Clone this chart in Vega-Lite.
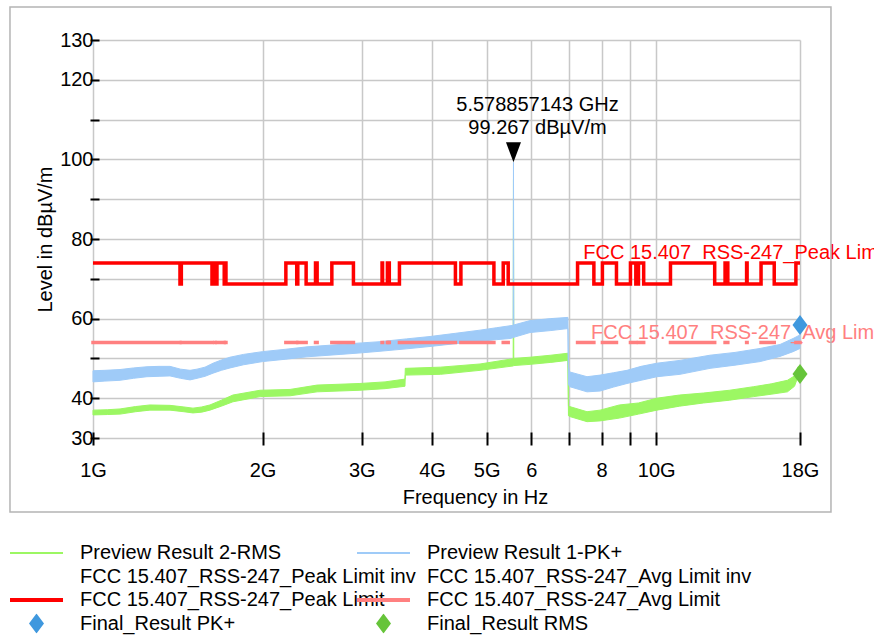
{
  "$schema": "https://vega.github.io/schema/vega-lite/v6.json",
  "width": 707,
  "height": 398,
  "autosize": {"type": "none"},
  "padding": {"left": 93, "top": 40, "right": 74, "bottom": 199},
  "background": "white",
  "config": {
    "font": "Liberation Sans",
    "view": {"stroke": null},
    "axis": {
      "labelFont": "Liberation Sans", "titleFont": "Liberation Sans",
      "labelFontSize": 20, "titleFontSize": 20, "titleFontWeight": "normal",
      "labelColor": "#000", "titleColor": "#000",
      "gridColor": "#c8c8c8", "gridWidth": 1.5,
      "tickColor": "#000", "tickWidth": 2, "domain": false,
      "labelFlush": false, "labelOverlap": false
    },
    "legend": {"labelFont": "Liberation Sans", "labelFontSize": 20, "labelColor": "#000"}
  },
  "datasets": {
    "rms": [
      {"f": 1.0, "lo": 35.8, "hi": 37.0}, {"f": 1.06, "lo": 35.9, "hi": 37.1}, {"f": 1.117, "lo": 36.0, "hi": 37.3},
      {"f": 1.19, "lo": 36.6, "hi": 37.9}, {"f": 1.262, "lo": 37.0, "hi": 38.3}, {"f": 1.37, "lo": 37.0, "hi": 38.2},
      {"f": 1.45, "lo": 36.6, "hi": 37.8}, {"f": 1.505, "lo": 36.3, "hi": 37.5}, {"f": 1.56, "lo": 36.5, "hi": 37.8},
      {"f": 1.613, "lo": 37.0, "hi": 38.3}, {"f": 1.69, "lo": 38.0, "hi": 39.5}, {"f": 1.772, "lo": 39.1, "hi": 40.8},
      {"f": 1.98, "lo": 40.4, "hi": 42.0}, {"f": 2.238, "lo": 40.6, "hi": 42.2}, {"f": 2.5, "lo": 41.6, "hi": 43.3},
      {"f": 2.978, "lo": 42.0, "hi": 43.7}, {"f": 3.3, "lo": 42.4, "hi": 44.1}, {"f": 3.58, "lo": 43.0, "hi": 44.8},
      {"f": 3.585, "lo": 45.8, "hi": 47.5}, {"f": 4.14, "lo": 46.0, "hi": 47.8}, {"f": 4.866, "lo": 47.0, "hi": 48.6},
      {"f": 5.5, "lo": 48.0, "hi": 49.8}, {"f": 5.572, "lo": 48.1, "hi": 49.9}, {"f": 5.5789, "lo": 48.1, "hi": 95.0},
      {"f": 5.586, "lo": 48.2, "hi": 50.0}, {"f": 5.97, "lo": 48.5, "hi": 50.3}, {"f": 6.5, "lo": 49.0, "hi": 50.8},
      {"f": 6.97, "lo": 49.5, "hi": 51.3}, {"f": 6.985, "lo": 35.6, "hi": 38.0}, {"f": 7.02, "lo": 35.4, "hi": 37.9},
      {"f": 7.536, "lo": 34.1, "hi": 36.6}, {"f": 7.95, "lo": 34.3, "hi": 37.0}, {"f": 8.6, "lo": 35.0, "hi": 38.3},
      {"f": 9.3, "lo": 36.0, "hi": 38.8}, {"f": 10.03, "lo": 37.0, "hi": 40.0}, {"f": 11.0, "lo": 38.0, "hi": 40.8},
      {"f": 12.13, "lo": 38.8, "hi": 41.3}, {"f": 13.5, "lo": 39.5, "hi": 42.0}, {"f": 14.9, "lo": 40.4, "hi": 42.9},
      {"f": 16.0, "lo": 41.0, "hi": 43.6}, {"f": 17.1, "lo": 41.6, "hi": 44.5}, {"f": 17.6, "lo": 43.0, "hi": 45.6},
      {"f": 17.85, "lo": 45.4, "hi": 47.9}, {"f": 18.0, "lo": 45.5, "hi": 47.8}
    ],
    "pk": [
      {"f": 1.0, "lo": 44.1, "hi": 46.9}, {"f": 1.05, "lo": 44.3, "hi": 47.0}, {"f": 1.117, "lo": 44.5, "hi": 47.2},
      {"f": 1.18, "lo": 45.0, "hi": 47.6}, {"f": 1.247, "lo": 45.4, "hi": 47.9}, {"f": 1.31, "lo": 45.5, "hi": 48.0},
      {"f": 1.37, "lo": 45.6, "hi": 48.0}, {"f": 1.43, "lo": 45.0, "hi": 47.3}, {"f": 1.487, "lo": 44.6, "hi": 47.0},
      {"f": 1.53, "lo": 45.0, "hi": 47.3}, {"f": 1.581, "lo": 45.5, "hi": 47.8}, {"f": 1.634, "lo": 46.3, "hi": 48.8},
      {"f": 1.69, "lo": 47.0, "hi": 49.6}, {"f": 1.751, "lo": 47.6, "hi": 50.3}, {"f": 1.85, "lo": 48.4, "hi": 51.0},
      {"f": 2.0, "lo": 49.2, "hi": 51.7}, {"f": 2.2, "lo": 49.8, "hi": 52.3}, {"f": 2.399, "lo": 50.4, "hi": 52.9},
      {"f": 2.746, "lo": 51.0, "hi": 53.5}, {"f": 3.0, "lo": 51.4, "hi": 53.9}, {"f": 3.233, "lo": 51.8, "hi": 54.2},
      {"f": 3.6, "lo": 52.4, "hi": 54.9}, {"f": 3.967, "lo": 53.0, "hi": 55.5}, {"f": 4.4, "lo": 53.7, "hi": 56.3},
      {"f": 4.866, "lo": 54.3, "hi": 57.1}, {"f": 5.2, "lo": 54.7, "hi": 57.7}, {"f": 5.5, "lo": 55.0, "hi": 58.2},
      {"f": 5.572, "lo": 55.2, "hi": 58.3}, {"f": 5.5789, "lo": 55.2, "hi": 99.267}, {"f": 5.586, "lo": 55.3, "hi": 58.4},
      {"f": 5.97, "lo": 56.5, "hi": 59.5}, {"f": 6.5, "lo": 57.0, "hi": 60.0}, {"f": 6.97, "lo": 57.5, "hi": 60.3},
      {"f": 6.985, "lo": 43.5, "hi": 48.0}, {"f": 7.02, "lo": 42.9, "hi": 46.6}, {"f": 7.536, "lo": 41.6, "hi": 45.4},
      {"f": 7.948, "lo": 41.8, "hi": 45.8}, {"f": 8.4, "lo": 42.8, "hi": 46.4}, {"f": 8.874, "lo": 43.7, "hi": 47.0},
      {"f": 9.4, "lo": 44.5, "hi": 48.0}, {"f": 10.03, "lo": 45.4, "hi": 48.8}, {"f": 11.02, "lo": 46.0, "hi": 49.5},
      {"f": 12.46, "lo": 47.5, "hi": 50.8}, {"f": 13.8, "lo": 48.3, "hi": 51.5}, {"f": 15.29, "lo": 49.2, "hi": 52.5},
      {"f": 16.59, "lo": 50.5, "hi": 53.5}, {"f": 17.5, "lo": 51.7, "hi": 55.0}, {"f": 18.0, "lo": 52.5, "hi": 55.9}
    ],
    "peak": [
      {"f": 1.0, "level": 74}, {"f": 1.427, "level": 68.7}, {"f": 1.435, "level": 74}, {"f": 1.6265, "level": 68.7},
      {"f": 1.6455, "level": 74}, {"f": 1.6465, "level": 68.7}, {"f": 1.66, "level": 74}, {"f": 1.71, "level": 68.7},
      {"f": 1.7188, "level": 74}, {"f": 1.7222, "level": 68.7}, {"f": 2.2, "level": 74}, {"f": 2.3, "level": 68.7},
      {"f": 2.31, "level": 74}, {"f": 2.39, "level": 68.7}, {"f": 2.4835, "level": 74}, {"f": 2.5, "level": 68.7},
      {"f": 2.655, "level": 74}, {"f": 2.9, "level": 68.7}, {"f": 3.26, "level": 74}, {"f": 3.267, "level": 68.7},
      {"f": 3.332, "level": 74}, {"f": 3.339, "level": 68.7}, {"f": 3.3458, "level": 74}, {"f": 3.358, "level": 68.7},
      {"f": 3.5, "level": 74}, {"f": 4.4, "level": 68.7}, {"f": 4.5, "level": 74}, {"f": 5.15, "level": 68.7},
      {"f": 5.35, "level": 74}, {"f": 5.46, "level": 68.7}, {"f": 7.25, "level": 74}, {"f": 7.75, "level": 68.7},
      {"f": 8.025, "level": 74}, {"f": 8.5, "level": 68.7}, {"f": 9.0, "level": 74}, {"f": 9.2, "level": 68.7},
      {"f": 9.3, "level": 74}, {"f": 9.5, "level": 68.7}, {"f": 10.6, "level": 74}, {"f": 12.7, "level": 68.7},
      {"f": 13.25, "level": 74}, {"f": 13.4, "level": 68.7}, {"f": 14.47, "level": 74}, {"f": 14.5, "level": 68.7},
      {"f": 15.35, "level": 74}, {"f": 16.2, "level": 68.7}, {"f": 17.7, "level": 74}, {"f": 18.0, "level": 74}
    ],
    "avg": [
      {"f": 1.0, "f2": 1.427}, {"f": 1.435, "f2": 1.6265}, {"f": 1.6455, "f2": 1.6465}, {"f": 1.66, "f2": 1.71},
      {"f": 1.7188, "f2": 1.7222}, {"f": 2.2, "f2": 2.3}, {"f": 2.31, "f2": 2.39}, {"f": 2.4835, "f2": 2.5},
      {"f": 2.655, "f2": 2.9}, {"f": 3.26, "f2": 3.267}, {"f": 3.332, "f2": 3.339}, {"f": 3.3458, "f2": 3.358},
      {"f": 3.5, "f2": 4.4}, {"f": 4.5, "f2": 5.15}, {"f": 5.35, "f2": 5.46}, {"f": 7.25, "f2": 7.75},
      {"f": 8.025, "f2": 8.5}, {"f": 9.0, "f2": 9.2}, {"f": 9.3, "f2": 9.5}, {"f": 10.6, "f2": 12.7},
      {"f": 13.25, "f2": 13.4}, {"f": 14.47, "f2": 14.5}, {"f": 15.35, "f2": 16.2}, {"f": 17.7, "f2": 18.0}
    ],
    "frame": [{"f": 0.7122, "f2": 20.43, "level": 11.42, "level2": 138.29}],
    "peaklabel": [{"f": 7.42, "level": 75.1, "text": "FCC 15.407_RSS-247_Peak Limit"}],
    "avglabel": [{"f": 7.66, "level": 54.86, "text": "FCC 15.407_RSS-247_Avg Limit"}],
    "marker": [{"f": 5.578857143, "level": 99.267, "label": "5.578857143 GHz\n99.267 dBµV/m"}],
    "finalpk": [{"series": "Final_Result PK+", "f": 18, "level": 58.4}],
    "finalrms": [{"series": "Final_Result RMS", "f": 18, "level": 46.1}]
  },
  "layer": [
    {
      "data": {"name": "rms"},
      "mark": {"type": "area", "color": "#9cf763", "stroke": "#9cf763", "strokeWidth": 1, "opacity": 1},
      "encoding": {
        "x": {"field": "f", "type": "quantitative", "scale": {"type": "log", "domain": [1, 18], "nice": false},
          "axis": {
            "values": [1, 2, 3, 4, 5, 6, 7, 8, 9, 10, 18], "tickCount": 30,
            "labelExpr": "datum.value == 6 ? '6' : datum.value == 8 ? '8' : (datum.value == 7 || datum.value == 9) ? '' : datum.value + 'G'",
            "title": "Frequency in Hz", "titleX": 382, "titleY": 71, "titleBaseline": "alphabetic", "titleAlign": "center",
            "offset": -6, "tickSize": 13, "labelPadding": 15, "grid": true
          }},
        "y": {"field": "lo", "type": "quantitative", "scale": {"domain": [30, 130], "nice": false, "zero": false},
          "axis": {
            "values": [30, 40, 50, 60, 70, 80, 90, 100, 110, 120, 130], "tickCount": 30,
            "labelExpr": "indexof([30,40,60,80,100,120,130], datum.value) >= 0 ? datum.label : ''",
            "title": "Level in dBµV/m", "titleX": -47.5, "titleY": 199, "titleAngle": 270, "titleBaseline": "alphabetic", "titleAlign": "center",
            "offset": -6, "tickSize": 9, "labelPadding": -3, "grid": true
          }},
        "y2": {"field": "hi"}
      }
    },
    {
      "data": {"name": "pk"},
      "mark": {"type": "area", "color": "#9fcbf8", "stroke": "#9fcbf8", "strokeWidth": 1, "opacity": 1},
      "encoding": {
        "x": {"field": "f", "type": "quantitative", "scale": {"type": "log", "domain": [1, 18], "nice": false}},
        "y": {"field": "lo", "type": "quantitative", "scale": {"domain": [30, 130], "nice": false, "zero": false}},
        "y2": {"field": "hi"}
      }
    },
    {
      "data": {"name": "avg"},
      "mark": {"type": "rule", "color": "#ff8080", "strokeWidth": 3.5, "strokeCap": "square"},
      "encoding": {
        "x": {"field": "f", "type": "quantitative", "scale": {"type": "log", "domain": [1, 18], "nice": false}},
        "x2": {"field": "f2"},
        "y": {"datum": 54, "type": "quantitative", "scale": {"domain": [30, 130], "nice": false, "zero": false}}
      }
    },
    {
      "data": {"name": "peak"},
      "mark": {"type": "line", "color": "#ff0000", "strokeWidth": 3.5, "interpolate": "step-after"},
      "encoding": {
        "x": {"field": "f", "type": "quantitative", "scale": {"type": "log", "domain": [1, 18], "nice": false}},
        "y": {"field": "level", "type": "quantitative", "scale": {"domain": [30, 130], "nice": false, "zero": false}}
      }
    },
    {
      "data": {"name": "peaklabel"},
      "mark": {"type": "text", "color": "#ff0000", "fontSize": 20, "align": "left", "baseline": "alphabetic"},
      "encoding": {
        "x": {"field": "f", "type": "quantitative", "scale": {"type": "log", "domain": [1, 18], "nice": false}},
        "y": {"field": "level", "type": "quantitative", "scale": {"domain": [30, 130], "nice": false, "zero": false}},
        "text": {"field": "text"}
      }
    },
    {
      "data": {"name": "avglabel"},
      "mark": {"type": "text", "color": "#ff8080", "fontSize": 20, "align": "left", "baseline": "alphabetic"},
      "encoding": {
        "x": {"field": "f", "type": "quantitative", "scale": {"type": "log", "domain": [1, 18], "nice": false}},
        "y": {"field": "level", "type": "quantitative", "scale": {"domain": [30, 130], "nice": false, "zero": false}},
        "text": {"field": "text"}
      }
    },
    {
      "data": {"name": "marker"},
      "mark": {"type": "point", "filled": true, "opacity": 1, "color": "#000", "shape": "M-0.75,-2L0.75,-2L0,0Z", "size": 400},
      "encoding": {
        "x": {"field": "f", "type": "quantitative", "scale": {"type": "log", "domain": [1, 18], "nice": false}},
        "y": {"field": "level", "type": "quantitative", "scale": {"domain": [30, 130], "nice": false, "zero": false}}
      }
    },
    {
      "data": {"name": "marker"},
      "mark": {"type": "text", "color": "#000", "fontSize": 20, "align": "center", "baseline": "middle", "lineBreak": "\n", "lineHeight": 23, "dx": 24, "dy": -57},
      "encoding": {
        "x": {"field": "f", "type": "quantitative", "scale": {"type": "log", "domain": [1, 18], "nice": false}},
        "y": {"field": "level", "type": "quantitative", "scale": {"domain": [30, 130], "nice": false, "zero": false}},
        "text": {"field": "label"}
      }
    },
    {
      "mark": {"type": "rule", "color": "#000", "strokeWidth": 2},
      "encoding": {
        "x": {"datum": 1, "type": "quantitative", "scale": {"type": "log", "domain": [1, 18], "nice": false}}
      }
    },
    {
      "mark": {"type": "rule", "color": "#000", "strokeWidth": 2},
      "encoding": {
        "y": {"datum": 30, "type": "quantitative", "scale": {"domain": [30, 130], "nice": false, "zero": false}}
      }
    },
    {
      "data": {"name": "frame"},
      "mark": {"type": "rect", "fill": null, "fillOpacity": 0, "stroke": "#b4b4b4", "strokeWidth": 1.5, "clip": false},
      "encoding": {
        "x": {"field": "f", "type": "quantitative", "scale": {"type": "log", "domain": [1, 18], "nice": false}},
        "x2": {"field": "f2"},
        "y": {"field": "level", "type": "quantitative", "scale": {"domain": [30, 130], "nice": false, "zero": false}},
        "y2": {"field": "level2"}
      }
    },
    {
      "data": {"name": "finalpk"},
      "mark": {"type": "point", "filled": true, "opacity": 1, "size": 2809},
      "encoding": {
        "x": {"field": "f", "type": "quantitative", "scale": {"type": "log", "domain": [1, 18], "nice": false}},
        "y": {"field": "level", "type": "quantitative", "scale": {"domain": [30, 130], "nice": false, "zero": false}},
        "color": {"field": "series", "type": "nominal",
          "scale": {"domain": ["Preview Result 2-RMS", "FCC 15.407_RSS-247_Peak Limit inv", "FCC 15.407_RSS-247_Peak Limit", "Final_Result PK+"],
                    "range": ["#9cf763", "transparent", "#ff0000", "#3f98de"]},
          "legend": {"title": null, "orient": "none", "legendX": -83, "legendY": 503, "direction": "vertical", "padding": 0,
            "symbolSize": 2809, "symbolStrokeWidth": 0, "symbolOffset": 0, "labelOffset": 17, "clipHeight": 20, "rowPadding": 3.5,
            "labelLimit": 600, "labelFontSize": 20, "labelBaseline": "middle", "symbolOpacity": 1}},
        "shape": {"field": "series", "type": "nominal",
          "scale": {"domain": ["Preview Result 2-RMS", "FCC 15.407_RSS-247_Peak Limit inv", "FCC 15.407_RSS-247_Peak Limit", "Final_Result PK+"],
                    "range": ["M-1,-0.04L1,-0.04L1,0.04L-1,0.04Z", "M-1,-0.04L1,-0.04L1,0.04L-1,0.04Z", "M-1,-0.075L1,-0.075L1,0.075L-1,0.075Z", "M0,-0.377L0.283,0L0,0.377L-0.283,0Z"]},
          "legend": {"title": null, "orient": "none", "legendX": -83, "legendY": 503, "direction": "vertical", "padding": 0,
            "symbolSize": 2809, "symbolStrokeWidth": 0, "symbolOffset": 0, "labelOffset": 17, "clipHeight": 20, "rowPadding": 3.5,
            "labelLimit": 600, "labelFontSize": 20, "labelBaseline": "middle", "symbolOpacity": 1}}
      }
    },
    {
      "data": {"name": "finalrms"},
      "mark": {"type": "point", "filled": true, "opacity": 1, "size": 2809},
      "encoding": {
        "x": {"field": "f", "type": "quantitative", "scale": {"type": "log", "domain": [1, 18], "nice": false}},
        "y": {"field": "level", "type": "quantitative", "scale": {"domain": [30, 130], "nice": false, "zero": false}},
        "color": {"field": "series", "type": "nominal",
          "scale": {"domain": ["Preview Result 1-PK+", "FCC 15.407_RSS-247_Avg Limit inv", "FCC 15.407_RSS-247_Avg Limit", "Final_Result RMS"],
                    "range": ["#9fcbf8", "transparent", "#ff8080", "#66c43a"]},
          "legend": {"title": null, "orient": "none", "legendX": 264, "legendY": 503, "direction": "vertical", "padding": 0,
            "symbolSize": 2809, "symbolStrokeWidth": 0, "symbolOffset": 0, "labelOffset": 17, "clipHeight": 20, "rowPadding": 3.5,
            "labelLimit": 600, "labelFontSize": 20, "labelBaseline": "middle", "symbolOpacity": 1}},
        "shape": {"field": "series", "type": "nominal",
          "scale": {"domain": ["Preview Result 1-PK+", "FCC 15.407_RSS-247_Avg Limit inv", "FCC 15.407_RSS-247_Avg Limit", "Final_Result RMS"],
                    "range": ["M-1,-0.04L1,-0.04L1,0.04L-1,0.04Z", "M-1,-0.04L1,-0.04L1,0.04L-1,0.04Z", "M-1,-0.075L1,-0.075L1,0.075L-1,0.075Z", "M0,-0.377L0.283,0L0,0.377L-0.283,0Z"]},
          "legend": {"title": null, "orient": "none", "legendX": 264, "legendY": 503, "direction": "vertical", "padding": 0,
            "symbolSize": 2809, "symbolStrokeWidth": 0, "symbolOffset": 0, "labelOffset": 17, "clipHeight": 20, "rowPadding": 3.5,
            "labelLimit": 600, "labelFontSize": 20, "labelBaseline": "middle", "symbolOpacity": 1}}
      }
    }
  ],
  "resolve": {"scale": {"color": "independent", "shape": "independent"}}
}
